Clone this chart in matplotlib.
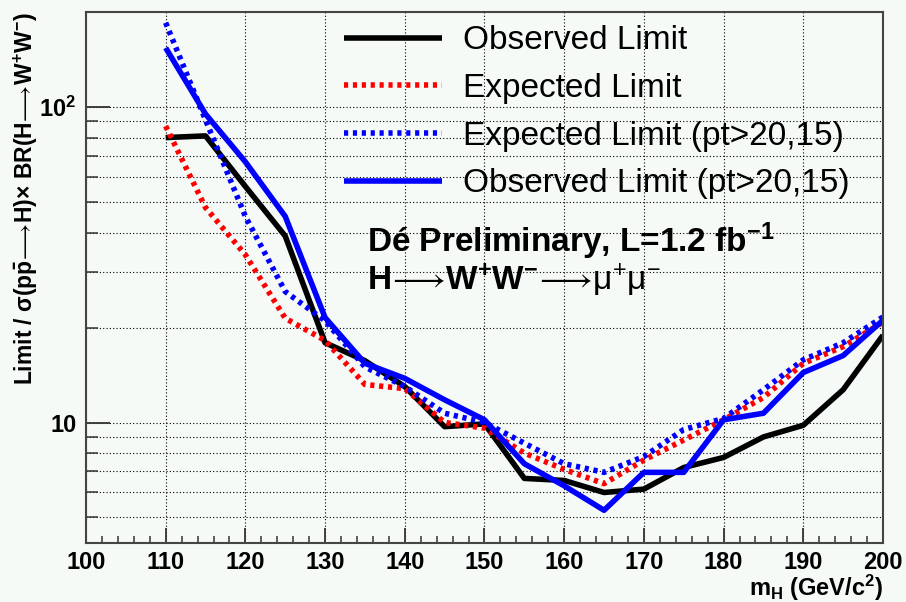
import matplotlib
matplotlib.use("Agg")
import matplotlib.pyplot as plt
from matplotlib.ticker import FixedLocator, NullFormatter

plt.rcParams['font.family'] = ['Liberation Sans', 'DejaVu Sans']
plt.rcParams['mathtext.fontset'] = 'custom'
plt.rcParams['mathtext.rm'] = 'Liberation Sans'
plt.rcParams['mathtext.it'] = 'Liberation Sans:italic'
plt.rcParams['mathtext.bf'] = 'Liberation Sans:bold'

# Higgs mass points (GeV/c^2)
mass = [110, 115, 120, 125, 130, 135, 140, 145, 150, 155,
        160, 165, 170, 175, 180, 185, 190, 195, 200]

observed = [80, 81, 56, 39, 17.9, 15.7, 13.0, 9.7, 9.9, 6.65,
            6.55, 6.0, 6.15, 7.2, 7.75, 9.0, 9.8, 12.7, 18.9]
expected = [87, 48, 34, 21.4, 18.2, 13.2, 12.8, 10.0, 9.6, 8.0,
            7.1, 6.4, 7.6, 8.8, 10.2, 12.0, 15.4, 17.4, 20.8]
expected_pt = [185, 91, 45, 26, 21, 15.0, 13.0, 10.7, 10.0, 8.6,
               7.4, 6.95, 7.8, 9.5, 10.3, 12.7, 15.8, 17.9, 21.6]
observed_pt = [154, 95, 67, 45, 21.5, 15.4, 13.8, 11.8, 10.2, 7.4,
               6.3, 5.27, 6.95, 6.95, 10.2, 10.7, 14.4, 16.3, 21.1]

labels = ["Observed Limit", "Expected Limit",
          "Expected Limit (pt>20,15)", "Observed Limit (pt>20,15)"]

bg = '#f6faf7'
fig = plt.figure(figsize=(9.06, 6.02), dpi=100, facecolor=bg)
ax = fig.add_axes([0.0949, 0.098, 0.8797, 0.882], facecolor=bg)

lw = 4.0
dots = (0, (0.75, 0.85))
ax.plot(mass, observed, color='black', lw=lw, label=labels[0], solid_capstyle='butt')
ax.plot(mass, expected, color='red', lw=lw, ls=dots, label=labels[1], dash_capstyle='butt')
ax.plot(mass, expected_pt, color='blue', lw=lw, ls=dots, label=labels[2], dash_capstyle='butt')
ax.plot(mass, observed_pt, color='blue', lw=lw, label=labels[3], solid_capstyle='butt')

ax.set_yscale('log')
ax.set_xlim(100, 200)
ax.set_ylim(4.15, 200)

# ticks
ax.set_xticks(range(100, 201, 10))
ax.set_xticks(range(100, 201, 2), minor=True)
ax.set_yticks([10, 100])
ax.set_yticklabels(['10', '10$^{\\mathbf{2}}$'])
ymin = [5, 6, 7, 8, 9, 20, 30, 40, 50, 60, 70, 80, 90]
ax.yaxis.set_minor_locator(FixedLocator(ymin))
ax.yaxis.set_minor_formatter(NullFormatter())

ax.tick_params(axis='both', which='both', direction='in', colors='#333333')
ax.tick_params(axis='x', which='major', length=11, width=1.3, pad=6, labelsize=17, labelcolor='black')
ax.tick_params(axis='x', which='minor', length=5, width=1.1)
ax.tick_params(axis='y', which='major', length=17, width=1.3, pad=7, labelsize=17, labelcolor='black')
ax.tick_params(axis='y', which='minor', length=8.5, width=1.1)
for lab in ax.get_xticklabels() + ax.get_yticklabels():
    lab.set_fontweight('bold')

for s in ax.spines.values():
    s.set_color('#444444')
    s.set_linewidth(1.5)

# grid
ax.grid(True, axis='x', which='major', color='black', ls=(0, (1, 2)), lw=0.8)
ax.grid(True, axis='y', which='both', color='black', ls=(0, (1, 2)), lw=0.8)
ax.set_axisbelow(True)

arrow = '$\\!\\longrightarrow\\!$'
ax.set_ylabel('Limit / σ($\\mathbf{p\\bar{p}}$' + arrow + 'H)× BR(H' + arrow
              + 'W$^{\\mathbf{+}}$W$^{\\mathbf{-}}$)',
              fontsize=16.5, fontweight='bold', loc='top')
ax.yaxis.set_label_coords(-0.058, 1.0)
ax.set_xlabel(r'$\mathbf{m_{H}}$ (GeV/c$^{\mathbf{2}}$)', fontsize=17, fontweight='bold',
              loc='right')
ax.xaxis.set_label_coords(1.0, -0.056)

leg = ax.legend(loc='upper left', bbox_to_anchor=(0.3237, 0.975), frameon=False,
                fontsize=24, handlelength=2.95, handletextpad=0.62, labelspacing=0.5,
                borderpad=0, borderaxespad=0)

ax.text(0.3530, 0.548, 'Dé Preliminary, L=1.2 fb$^{\\mathbf{-1}}$',
        transform=ax.transAxes, fontsize=24, fontweight='bold', va='baseline')
ax.text(0.3530, 0.476, 'H' + arrow + 'W$^{\\mathbf{+}}$W$^{\\mathbf{-}}$' + arrow
        + '$\\mathrm{\\mu^{+}\\mu^{-}}$',
        transform=ax.transAxes, fontsize=24, fontweight='bold', va='baseline')

fig.savefig('out.png', dpi=100, facecolor=bg)
